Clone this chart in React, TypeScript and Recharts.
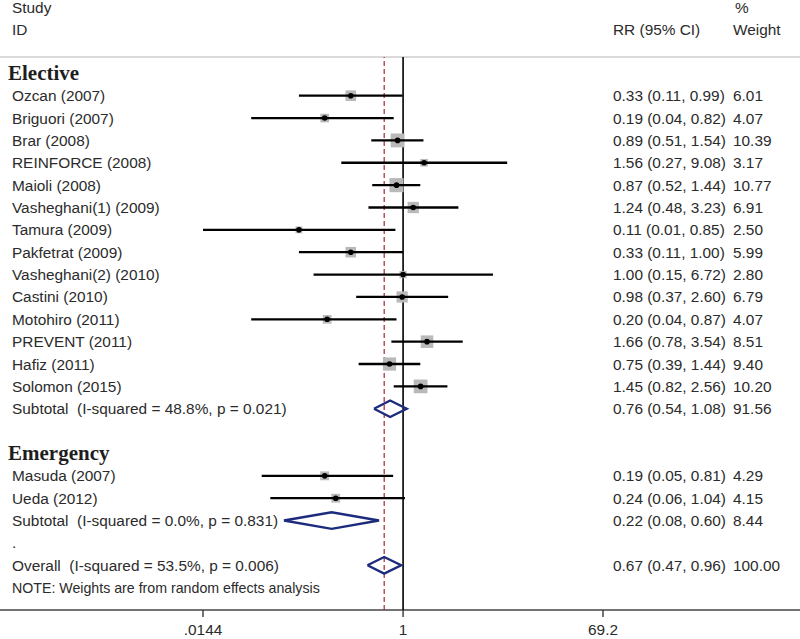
import React from 'react';
import { ComposedChart, XAxis, YAxis, Scatter, ReferenceLine } from 'recharts';

// ---------- data ----------
const groupLabels = ['Elective', 'Emergency'];

const electiveStudies = [
  'Ozcan (2007)', 'Briguori (2007)', 'Brar (2008)', 'REINFORCE (2008)', 'Maioli (2008)',
  'Vasheghani(1) (2009)', 'Tamura (2009)', 'Pakfetrat (2009)', 'Vasheghani(2) (2010)',
  'Castini (2010)', 'Motohiro (2011)', 'PREVENT (2011)', 'Hafiz (2011)', 'Solomon (2015)',
];
const electiveRR = [0.33, 0.19, 0.89, 1.56, 0.87, 1.24, 0.11, 0.33, 1.0, 0.98, 0.2, 1.66, 0.75, 1.45];
const electiveLow = [0.11, 0.04, 0.51, 0.27, 0.52, 0.48, 0.01, 0.11, 0.15, 0.37, 0.04, 0.78, 0.39, 0.82];
const electiveHigh = [0.99, 0.82, 1.54, 9.08, 1.44, 3.23, 0.85, 1.0, 6.72, 2.6, 0.87, 3.54, 1.44, 2.56];
const electiveWeight = [6.01, 4.07, 10.39, 3.17, 10.77, 6.91, 2.5, 5.99, 2.8, 6.79, 4.07, 8.51, 9.4, 10.2];

const emergencyStudies = ['Masuda (2007)', 'Ueda (2012)'];
const emergencyRR = [0.19, 0.24];
const emergencyLow = [0.05, 0.06];
const emergencyHigh = [0.81, 1.04];
const emergencyWeight = [4.29, 4.15];

const pooledLabels = [
  'Subtotal  (I-squared = 48.8%, p = 0.021)',
  'Subtotal  (I-squared = 0.0%, p = 0.831)',
  'Overall  (I-squared = 53.5%, p = 0.006)',
];
const pooledRR = [0.76, 0.22, 0.67];
const pooledLow = [0.54, 0.08, 0.47];
const pooledHigh = [1.08, 0.6, 0.96];
const pooledWeight = [91.56, 8.44, 100.0];

const noteText = 'NOTE: Weights are from random effects analysis';
const xTicks = [0.0144, 1, 69.2];
const xTickLabels = ['.0144', '1', '69.2'];

// ---------- row layout ----------
type Row = {
  row: number;
  kind: 'group' | 'study' | 'pooled' | 'dot' | 'note';
  label: string;
  rr?: number;
  lo?: number;
  hi?: number;
  w?: number;
};

const rows: Row[] = [];
let r = 0;
rows.push({ row: r++, kind: 'group', label: groupLabels[0] });
electiveStudies.forEach((s, i) =>
  rows.push({ row: r++, kind: 'study', label: s, rr: electiveRR[i], lo: electiveLow[i], hi: electiveHigh[i], w: electiveWeight[i] })
);
rows.push({ row: r++, kind: 'pooled', label: pooledLabels[0], rr: pooledRR[0], lo: pooledLow[0], hi: pooledHigh[0], w: pooledWeight[0] });
r++;
rows.push({ row: r++, kind: 'group', label: groupLabels[1] });
emergencyStudies.forEach((s, i) =>
  rows.push({ row: r++, kind: 'study', label: s, rr: emergencyRR[i], lo: emergencyLow[i], hi: emergencyHigh[i], w: emergencyWeight[i] })
);
rows.push({ row: r++, kind: 'pooled', label: pooledLabels[1], rr: pooledRR[1], lo: pooledLow[1], hi: pooledHigh[1], w: pooledWeight[1] });
rows.push({ row: r++, kind: 'dot', label: '.' });
rows.push({ row: r++, kind: 'pooled', label: pooledLabels[2], rr: pooledRR[2], lo: pooledLow[2], hi: pooledHigh[2], w: pooledWeight[2] });
rows.push({ row: r++, kind: 'note', label: noteText });

const studyRows = rows.filter((d) => d.kind === 'study');
const pooledRows = rows.filter((d) => d.kind === 'pooled');

const textData = rows.map((d) => ({ ...d, tx: 0.5, y: d.row }));
const pointData = studyRows.map((d) => ({ x: d.rr as number, y: d.row, w: d.w as number }));

const DIAMOND_HALF = 0.37;

// ---------- styles ----------
const SANS = '"Liberation Sans", Arial, sans-serif';
const SERIF = '"Liberation Serif", "Times New Roman", serif';
const TEXT = '#2b2b2b';
const FS = 15.4;
const NAVY = '#1d2b7d';

const TextShape = (p: any) => {
  const d = p.payload as Row;
  const cy = p.cy;
  const fmt = (v?: number) => (v as number).toFixed(2);
  if (d.kind === 'group') {
    return (
      <text x={8} y={cy} dominantBaseline="central" fontFamily={SERIF} fontWeight="bold" fontSize={21} fill="#1e1e1e">
        {d.label}
      </text>
    );
  }
  return (
    <g>
      <text
        x={12}
        y={cy}
        dominantBaseline="central"
        fontFamily={SANS}
        fontSize={d.kind === 'note' ? 14.2 : FS}
        fill={TEXT}
        style={{ whiteSpace: 'pre' }}
      >
        {d.label}
      </text>
      {d.rr !== undefined && (
        <text x={613} y={cy} dominantBaseline="central" fontFamily={SANS} fontSize={FS} fill={TEXT}>
          {`${fmt(d.rr)} (${fmt(d.lo)}, ${fmt(d.hi)})`}
        </text>
      )}
      {d.w !== undefined && (
        <text x={733} y={cy} dominantBaseline="central" fontFamily={SANS} fontSize={FS} fill={TEXT}>
          {fmt(d.w)}
        </text>
      )}
    </g>
  );
};

const SquareShape = (p: any) => {
  const s = 4.3 * Math.sqrt(p.payload.w);
  return <rect x={p.cx - s / 2} y={p.cy - s / 2} width={s} height={s} fill="#b9b9b9" />;
};

const DotShape = (p: any) => <circle cx={p.cx} cy={p.cy} r={2.8} fill="#000" />;
const NoShape = () => <g />;

const TickLabel = (p: any) => {
  const idx = xTicks.indexOf(p.payload.value);
  return (
    <text x={p.x} y={634.5} textAnchor="middle" fontFamily={SANS} fontSize={FS} fill={TEXT}>
      {idx >= 0 ? xTickLabels[idx] : p.payload.value}
    </text>
  );
};

export default function App() {
  return (
    <div style={{ position: 'absolute', left: 0, top: 0, width: 800, height: 639, background: '#fff' }}>
      <ComposedChart width={800} height={639} margin={{ top: 57, right: 197, bottom: 0, left: 203 }}>
        <XAxis
          xAxisId="main"
          dataKey="x"
          type="number"
          scale="log"
          domain={[xTicks[0], xTicks[2]]}
          allowDataOverflow
          ticks={xTicks}
          interval={0}
          axisLine={false}
          tickLine={{ stroke: '#444', strokeWidth: 1.5 }}
          tickSize={7}
          tick={<TickLabel />}
          height={29}
        />
        <XAxis xAxisId="txt" dataKey="tx" type="number" domain={[0, 1]} hide />
        <YAxis dataKey="y" type="number" domain={[-0.73, 24]} reversed hide />

        <line x1={0} x2={800} y1={57} y2={57} stroke="#b5b5b5" strokeWidth={1} />
        <line x1={0} x2={800} y1={610} y2={610} stroke="#444" strokeWidth={1.5} />
        <text x={12} y={13} fontFamily={SANS} fontSize={FS} fill={TEXT}>Study</text>
        <text x={12} y={35} fontFamily={SANS} fontSize={FS} fill={TEXT}>ID</text>
        <text x={613} y={35} fontFamily={SANS} fontSize={FS} fill={TEXT}>RR (95% CI)</text>
        <text x={735} y={13} fontFamily={SANS} fontSize={FS} fill={TEXT}>%</text>
        <text x={733} y={35} fontFamily={SANS} fontSize={FS} fill={TEXT}>Weight</text>

        <ReferenceLine xAxisId="main" x={1} stroke="#000" strokeWidth={1.6} />
        <ReferenceLine xAxisId="main" x={pooledRR[2]} stroke="#a3282e" strokeWidth={1.2} strokeDasharray="5 3" />

        <Scatter xAxisId="main" data={pointData} shape={SquareShape} isAnimationActive={false} />
        {studyRows.map((d) => (
          <Scatter
            key={`ci-${d.row}`}
            xAxisId="main"
            data={[
              { x: d.lo as number, y: d.row },
              { x: d.hi as number, y: d.row },
            ]}
            shape={NoShape}
            line={{ stroke: '#000', strokeWidth: 2.3, fill: 'none' }}
            isAnimationActive={false}
          />
        ))}
        <Scatter xAxisId="main" data={pointData} shape={DotShape} isAnimationActive={false} />
        {pooledRows.map((d) => (
          <Scatter
            key={`dia-${d.row}`}
            xAxisId="main"
            data={[
              { x: d.lo as number, y: d.row },
              { x: d.rr as number, y: d.row - DIAMOND_HALF },
              { x: d.hi as number, y: d.row },
              { x: d.rr as number, y: d.row + DIAMOND_HALF },
              { x: d.lo as number, y: d.row },
            ]}
            shape={NoShape}
            line={{ stroke: NAVY, strokeWidth: 2.4, fill: 'none', strokeLinejoin: 'miter' }}
            isAnimationActive={false}
          />
        ))}
        <Scatter xAxisId="txt" data={textData} shape={TextShape} isAnimationActive={false} />
      </ComposedChart>
    </div>
  );
}
